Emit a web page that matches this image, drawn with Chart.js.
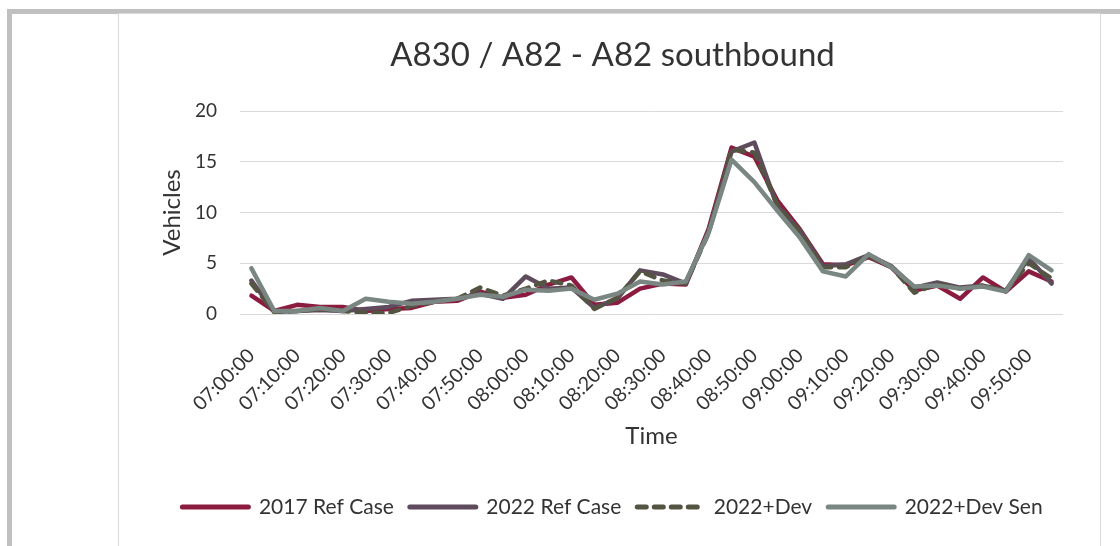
<!DOCTYPE html>
<html>
<head>
<meta charset="utf-8">
<script src="https://cdn.jsdelivr.net/npm/chart.js@4.4.1/dist/chart.umd.min.js"></script>
<style>
  html, body { margin: 0; padding: 0; background: #ffffff; }
  body { width: 1120px; height: 546px; position: relative; overflow: hidden; }
  #frame { position: absolute; left: 7px; top: 9px; width: 1120px; height: 600px;
           border: 5px solid #c0c0c0; box-sizing: border-box; }
  #panel { position: absolute; left: 118px; top: 13px; width: 983px; height: 600px;
           border: 1px solid #d9d9d9; box-sizing: border-box; background: #ffffff; }
  #chart { position: absolute; left: 0; top: 0; }
</style>
</head>
<body>
<div id="frame"></div>
<div id="panel"></div>
<canvas id="chart" width="1120" height="546"></canvas>
<script>
// Five-minute intervals, 07:00 to 09:55
const categories = [
  '07:00:00','07:05:00','07:10:00','07:15:00','07:20:00','07:25:00',
  '07:30:00','07:35:00','07:40:00','07:45:00','07:50:00','07:55:00',
  '08:00:00','08:05:00','08:10:00','08:15:00','08:20:00','08:25:00',
  '08:30:00','08:35:00','08:40:00','08:45:00','08:50:00','08:55:00',
  '09:00:00','09:05:00','09:10:00','09:15:00','09:20:00','09:25:00',
  '09:30:00','09:35:00','09:40:00','09:45:00','09:50:00','09:55:00'
];

const refCase2017 = [1.8,0.3,0.9,0.7,0.7,0.3,0.5,0.6,1.2,1.3,2.2,1.6,1.9,2.9,3.6,0.9,1.1,2.5,
                     3.0,2.9,8.4,16.4,15.5,11.2,8.3,4.9,4.8,5.6,4.6,2.3,2.8,1.5,3.6,2.2,4.2,3.2];
const refCase2022 = [3.3,0.2,0.3,0.4,0.3,0.5,0.7,1.3,1.4,1.5,2.0,1.5,3.7,2.5,2.6,0.6,1.5,4.3,
                     3.9,3.0,8.2,16.0,16.9,10.6,8.2,4.7,4.9,5.8,4.7,2.6,3.1,2.6,2.8,2.3,5.5,3.0];
const dev2022     = [3.0,0.2,0.3,0.5,0.3,0.1,0.1,0.8,1.2,1.5,2.6,1.8,2.5,3.3,2.8,0.5,1.6,4.2,
                     3.3,3.0,8.0,16.2,15.9,10.8,8.1,4.6,4.6,5.7,4.6,2.1,3.0,2.5,2.8,2.3,5.0,3.5];
const devSen2022  = [4.5,0.3,0.3,0.6,0.3,1.5,1.2,1.0,1.2,1.5,1.9,1.7,2.4,2.3,2.5,1.4,2.0,3.2,
                     2.9,3.2,8.0,15.2,13.0,10.2,7.5,4.2,3.7,5.9,4.6,2.7,2.8,2.5,2.7,2.2,5.8,4.3];

const seriesNames = ['2017 Ref Case', '2022 Ref Case', '2022+Dev', '2022+Dev Sen'];
const yTicks = [0, 5, 10, 15, 20];

const FONT = 'Lato, "Open Sans", sans-serif';
const TEXT = '#333333';

function lineSet(label, data, color, order, dash) {
  return {
    label, data, order,
    borderColor: color,
    backgroundColor: color,
    borderWidth: 4.5,
    borderDash: dash || [],
    borderCapStyle: 'round',
    borderJoinStyle: 'round',
    pointRadius: 0,
    pointHoverRadius: 0,
    tension: 0,
    fill: false
  };
}

// Legend samples: take dash pattern and round caps from each dataset's line
function legendLabels(chart) {
  const base = Chart.defaults.plugins.legend.labels.generateLabels(chart);
  return base.map(item => {
    const ds = chart.data.datasets[item.datasetIndex];
    item.lineDash = ds.borderDash;
    item.lineCap = 'round';
    item.lineWidth = 5;
    item.strokeStyle = ds.borderColor;
    return item;
  });
}

function build() {
  new Chart(document.getElementById('chart'), {
    type: 'line',
    data: {
      labels: categories,
      datasets: [
        lineSet(seriesNames[0], refCase2017, '#8c1c3f', 4),
        lineSet(seriesNames[1], refCase2022, '#5e4b5c', 3),
        lineSet(seriesNames[2], dev2022, '#545442', 2, [9, 8]),
        lineSet(seriesNames[3], devSen2022, '#7a8682', 1)
      ]
    },
    options: {
      responsive: false,
      animation: false,
      devicePixelRatio: 1,
      layout: { padding: { left: 162, right: 57, top: 20, bottom: 18.5 } },
      plugins: {
        tooltip: { enabled: false },
        title: {
          display: true,
          text: 'A830 / A82 - A82 southbound',
          color: TEXT,
          font: { family: FONT, size: 33, weight: 'normal' },
          padding: { top: 16, bottom: 35.4 }
        },
        legend: {
          position: 'bottom',
          labels: {
            usePointStyle: true,
            pointStyle: 'line',
            pointStyleWidth: 66,
            padding: 16,
            color: TEXT,
            font: { family: FONT, size: 21 },
            generateLabels: legendLabels,
            sort: (a, b) => a.datasetIndex - b.datasetIndex
          }
        }
      },
      scales: {
        x: {
          offset: true,
          grid: { display: false },
          border: { display: false },
          ticks: {
            autoSkip: false,
            maxRotation: 45,
            minRotation: 45,
            padding: 22,
            color: TEXT,
            font: { family: FONT, size: 19.5 },
            callback: (value, index) => (index % 2 === 0 ? categories[index] : '')
          },
          title: {
            display: true,
            text: 'Time',
            color: TEXT,
            font: { family: FONT, size: 24 },
            padding: { top: 0, bottom: 30 }
          },
          afterFit: (scale) => { scale.height = 166.5; }
        },
        y: {
          min: 0,
          max: 20,
          afterBuildTicks: (scale) => { scale.ticks = yTicks.map(v => ({ value: v })); },
          grid: { color: '#d9d9d9', lineWidth: 1, drawTicks: false },
          border: { display: false },
          ticks: {
            padding: 23,
            color: TEXT,
            font: { family: FONT, size: 19 }
          },
          title: {
            display: true,
            text: 'Vehicles',
            color: TEXT,
            font: { family: FONT, size: 24 },
            padding: { top: -4.4, bottom: 0 }
          },
          afterFit: (scale) => { scale.width = 78; }
        }
      }
    }
  });
}

if (document.fonts && document.fonts.load) {
  document.fonts.load('20px Lato').then(build, build);
} else {
  build();
}
</script>
</body>
</html>
